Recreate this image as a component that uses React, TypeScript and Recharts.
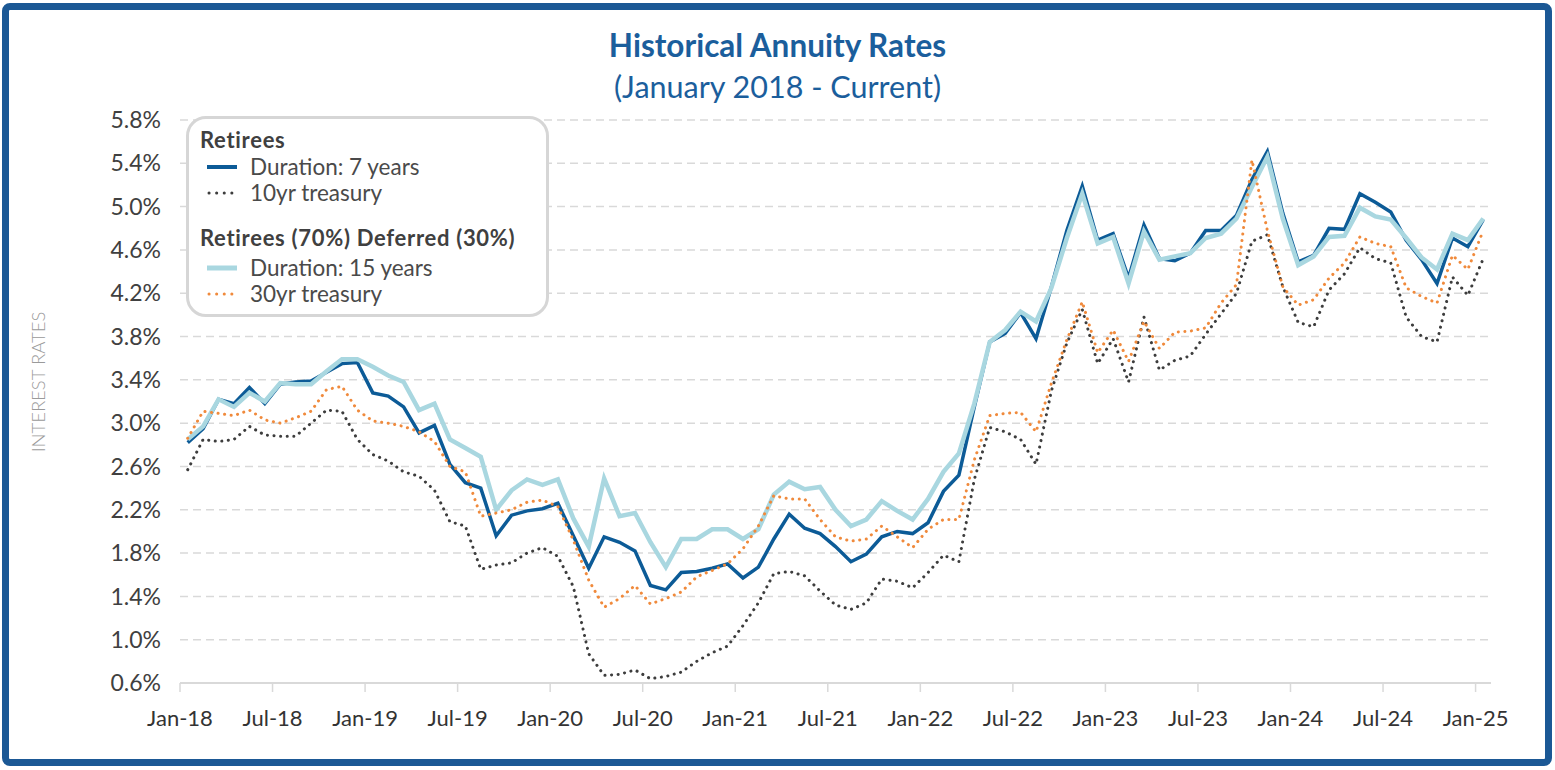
import React from "react";
import { LineChart, Line, XAxis, YAxis, CartesianGrid } from "recharts";

const months = [
  "Jan-18","Feb-18","Mar-18","Apr-18","May-18","Jun-18","Jul-18","Aug-18","Sep-18","Oct-18","Nov-18","Dec-18",
  "Jan-19","Feb-19","Mar-19","Apr-19","May-19","Jun-19","Jul-19","Aug-19","Sep-19","Oct-19","Nov-19","Dec-19",
  "Jan-20","Feb-20","Mar-20","Apr-20","May-20","Jun-20","Jul-20","Aug-20","Sep-20","Oct-20","Nov-20","Dec-20",
  "Jan-21","Feb-21","Mar-21","Apr-21","May-21","Jun-21","Jul-21","Aug-21","Sep-21","Oct-21","Nov-21","Dec-21",
  "Jan-22","Feb-22","Mar-22","Apr-22","May-22","Jun-22","Jul-22","Aug-22","Sep-22","Oct-22","Nov-22","Dec-22",
  "Jan-23","Feb-23","Mar-23","Apr-23","May-23","Jun-23","Jul-23","Aug-23","Sep-23","Oct-23","Nov-23","Dec-23",
  "Jan-24","Feb-24","Mar-24","Apr-24","May-24","Jun-24","Jul-24","Aug-24","Sep-24","Oct-24","Nov-24","Dec-24",
  "Jan-25",
];

const tickLabels = [
  "Jan-18","Jul-18","Jan-19","Jul-19","Jan-20","Jul-20","Jan-21","Jul-21",
  "Jan-22","Jul-22","Jan-23","Jul-23","Jan-24","Jul-24","Jan-25",
];

const yTicks = [0.6, 1.0, 1.4, 1.8, 2.2, 2.6, 3.0, 3.4, 3.8, 4.2, 4.6, 5.0, 5.4, 5.8];

// Retirees – Duration: 7 years
const duration7 = [
  2.82, 2.95, 3.22, 3.18, 3.33, 3.18, 3.36, 3.38, 3.39, 3.47, 3.55, 3.56,
  3.28, 3.25, 3.15, 2.91, 2.98, 2.62, 2.45, 2.40, 1.96, 2.15, 2.19, 2.21,
  2.26, 1.96, 1.66, 1.95, 1.90, 1.82, 1.50, 1.46, 1.62, 1.63, 1.66, 1.70,
  1.57, 1.67, 1.93, 2.16, 2.03, 1.98, 1.86, 1.72, 1.79, 1.95, 2.00, 1.98,
  2.08, 2.37, 2.52, 3.15, 3.75, 3.83, 4.02, 3.78, 4.26, 4.78, 5.19, 4.69,
  4.75, 4.34, 4.83, 4.52, 4.50, 4.57, 4.78, 4.78, 4.92, 5.25, 5.51, 4.94,
  4.49, 4.55, 4.80, 4.79, 5.12, 5.04, 4.95, 4.69, 4.51, 4.29, 4.71, 4.63,
  4.88,
];

// 10yr treasury
const treasury10 = [
  2.57, 2.85, 2.83, 2.85, 2.97, 2.89, 2.88, 2.88, 3.00, 3.12, 3.11, 2.85,
  2.71, 2.65, 2.55, 2.51, 2.38, 2.09, 2.05, 1.65, 1.69, 1.71, 1.80, 1.85,
  1.77, 1.49, 0.87, 0.67, 0.68, 0.72, 0.64, 0.66, 0.70, 0.80, 0.88, 0.94,
  1.13, 1.34, 1.61, 1.63, 1.59, 1.45, 1.32, 1.28, 1.34, 1.56, 1.54, 1.48,
  1.62, 1.78, 1.72, 2.48, 2.96, 2.92, 2.85, 2.62, 3.30, 3.74, 4.05, 3.55,
  3.78, 3.38, 3.98, 3.49, 3.58, 3.62, 3.82, 4.01, 4.20, 4.68, 4.74, 4.26,
  3.93, 3.89, 4.23, 4.38, 4.62, 4.52, 4.48, 3.98, 3.80, 3.75, 4.35, 4.18,
  4.52,
];

// Retirees (70%) Deferred (30%) – Duration: 15 years
const duration15 = [
  2.85, 2.97, 3.22, 3.15, 3.28, 3.20, 3.37, 3.36, 3.36, 3.48, 3.59, 3.59,
  3.52, 3.44, 3.38, 3.12, 3.18, 2.85, 2.77, 2.69, 2.20, 2.38, 2.48, 2.43,
  2.48, 2.12, 1.86, 2.49, 2.14, 2.17, 1.90, 1.67, 1.93, 1.93, 2.02, 2.02,
  1.93, 2.02, 2.34, 2.46, 2.39, 2.41, 2.20, 2.05, 2.11, 2.28, 2.19, 2.11,
  2.30, 2.55, 2.72, 3.18, 3.75, 3.86, 4.03, 3.94, 4.25, 4.71, 5.12, 4.66,
  4.72, 4.29, 4.77, 4.51, 4.54, 4.57, 4.71, 4.75, 4.89, 5.18, 5.46, 4.89,
  4.46, 4.54, 4.72, 4.73, 4.99, 4.91, 4.88, 4.71, 4.53, 4.42, 4.75, 4.69,
  4.89,
];

// 30yr treasury
const treasury30 = [
  2.86, 3.11, 3.09, 3.07, 3.12, 3.03, 3.00, 3.05, 3.11, 3.31, 3.34, 3.12,
  3.02, 3.00, 2.97, 2.92, 2.83, 2.60, 2.55, 2.14, 2.17, 2.20, 2.27, 2.29,
  2.23, 1.92, 1.55, 1.30, 1.38, 1.50, 1.33, 1.38, 1.44, 1.58, 1.64, 1.70,
  1.84, 2.05, 2.33, 2.30, 2.30, 2.11, 1.95, 1.91, 1.93, 2.05, 1.95, 1.85,
  2.02, 2.11, 2.11, 2.66, 3.07, 3.09, 3.10, 2.92, 3.37, 3.77, 4.12, 3.65,
  3.86, 3.57, 3.94, 3.69, 3.84, 3.85, 3.88, 4.11, 4.28, 5.43, 4.78, 4.26,
  4.09, 4.14, 4.34, 4.48, 4.72, 4.66, 4.63, 4.25, 4.17, 4.11, 4.55, 4.42,
  4.78,
];

const C_DARK = "#0c5b97";
const C_LIGHT = "#a9d7e0";
const C_GRAY = "#3d3d3d";
const C_ORANGE = "#f08a3c";
const C_TITLE = "#1b5e9c";
const FONT = "Lato, 'Open Sans', sans-serif";

const data = months.map((m, i) => ({
  x: i + 0.5,
  month: m,
  d7: duration7[i],
  t10: treasury10[i],
  d15: duration15[i],
  t30: treasury30[i],
}));

const xTicks = tickLabels.map((_, k) => k * 6);

function LegendBox() {
  const head = (top: number): React.CSSProperties => ({
    position: "absolute",
    left: 11,
    top,
    fontWeight: 700,
    fontSize: 22,
    letterSpacing: 0.7,
    color: "#404040",
    lineHeight: "26px",
    whiteSpace: "nowrap",
  });
  const row = (top: number): React.CSSProperties => ({
    position: "absolute",
    left: 15,
    top,
    display: "flex",
    alignItems: "center",
    fontSize: 22.5,
    color: "#4a4a4a",
    lineHeight: "26px",
    whiteSpace: "nowrap",
  });
  const sample = (color: string, dotted: boolean, thick: number) => (
    <svg width={44} height={12} style={{ marginRight: 2 }}>
      {dotted ? (
        <line x1={5} y1={6} x2={30} y2={6} stroke={color} strokeWidth={3}
          strokeLinecap="round" strokeDasharray="0.1 7.5" />
      ) : (
        <line x1={3} y1={6} x2={33} y2={6} stroke={color} strokeWidth={thick} />
      )}
    </svg>
  );
  return (
    <div
      style={{
        position: "absolute",
        left: 186,
        top: 116,
        width: 363,
        height: 201,
        boxSizing: "border-box",
        border: "3px solid #d6d6d6",
        borderRadius: 20,
        background: "#fff",
        fontFamily: FONT,
      }}
    >
      <div style={head(8)}>Retirees</div>
      <div style={row(35)}>{sample(C_DARK, false, 4)}Duration: 7 years</div>
      <div style={row(61)}>{sample(C_GRAY, true, 3)}10yr treasury</div>
      <div style={head(106)}>Retirees (70%) Deferred (30%)</div>
      <div style={row(136)}>{sample(C_LIGHT, false, 5)}Duration: 15 years</div>
      <div style={row(162)}>{sample(C_ORANGE, true, 3)}30yr treasury</div>
    </div>
  );
}

export default function App() {
  return (
    <div
      style={{
        position: "absolute",
        left: 0,
        top: 0,
        width: 1555,
        height: 770,
        background: "#fff",
        fontFamily: FONT,
        overflow: "hidden",
      }}
    >
      <div
        style={{
          position: "absolute",
          left: 2,
          top: 3,
          width: 1550,
          height: 763,
          boxSizing: "border-box",
          border: "7px solid #1b5895",
          borderRadius: 8,
        }}
      />
      <div
        style={{
          position: "absolute",
          left: 0,
          width: 1555,
          top: 25,
          textAlign: "center",
          color: C_TITLE,
          fontWeight: 700,
          fontSize: 31.5,
          lineHeight: "40px",
        }}
      >
        Historical Annuity Rates
      </div>
      <div
        style={{
          position: "absolute",
          left: 0,
          width: 1555,
          top: 66,
          textAlign: "center",
          color: C_TITLE,
          fontSize: 30.5,
          lineHeight: "40px",
        }}
      >
        (January 2018 - Current)
      </div>
      <div
        style={{
          position: "absolute",
          left: 38 - 100,
          top: 382 - 10,
          width: 200,
          height: 20,
          lineHeight: "20px",
          textAlign: "center",
          transform: "rotate(-90deg)",
          color: "#9a9a9a",
          fontSize: 18.5,
          fontWeight: 300,
        }}
      >
        INTEREST RATES
      </div>
      <div style={{ position: "absolute", left: 0, top: 0 }}>
        <LineChart
          width={1555}
          height={770}
          data={data}
          margin={{ top: 120, right: 64, bottom: 27, left: 80 }}
        >
          <CartesianGrid vertical={false} stroke="#d9d9d9" strokeDasharray="8 5" strokeWidth={1.5} />
          <XAxis
            type="number"
            dataKey="x"
            domain={[0, 85]}
            ticks={xTicks}
            interval={0}
            allowDataOverflow
            height={60}
            tickFormatter={(v: number) => tickLabels[Math.round(v / 6)]}
            axisLine={{ stroke: "#d9d9d9", strokeWidth: 2 }}
            tickLine={{ stroke: "#d9d9d9", strokeWidth: 1.5 }}
            tickSize={9}
            tickMargin={18}
            tick={{ fill: "#333", fontSize: 22, fontFamily: FONT }}
          />
          <YAxis
            type="number"
            domain={[0.6, 5.8]}
            ticks={yTicks}
            interval={0}
            allowDataOverflow
            width={100}
            axisLine={false}
            tickLine={false}
            tickSize={0}
            tickMargin={19}
            tickFormatter={(v: number) => v.toFixed(1) + "%"}
            tick={{ fill: "#404040", fontSize: 23, fontFamily: FONT }}
          />
          <Line
            type="linear"
            dataKey="d7"
            stroke={C_DARK}
            strokeWidth={3.5}
            dot={false}
            isAnimationActive={false}
          />
          <Line
            type="linear"
            dataKey="d15"
            stroke={C_LIGHT}
            strokeWidth={4.5}
            dot={false}
            isAnimationActive={false}
          />
          <Line
            type="linear"
            dataKey="t10"
            stroke={C_GRAY}
            strokeWidth={3}
            strokeLinecap="round"
            strokeDasharray="0.1 6.5"
            dot={false}
            isAnimationActive={false}
          />
          <Line
            type="linear"
            dataKey="t30"
            stroke={C_ORANGE}
            strokeWidth={3}
            strokeLinecap="round"
            strokeDasharray="0.1 6.5"
            dot={false}
            isAnimationActive={false}
          />
        </LineChart>
      </div>
      <LegendBox />
    </div>
  );
}
